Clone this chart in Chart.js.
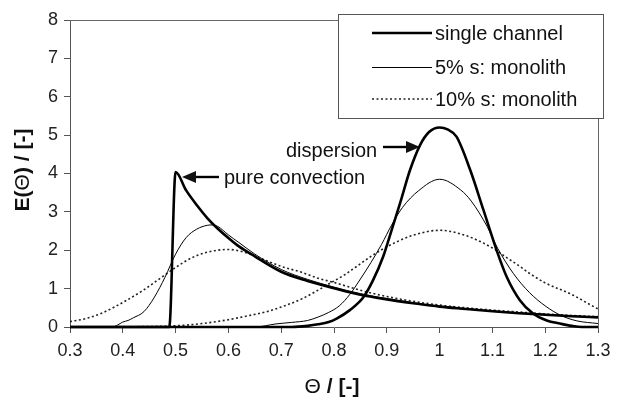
<!DOCTYPE html>
<html>
<head>
<meta charset="utf-8">
<script src="https://cdn.jsdelivr.net/npm/chart.js@4.4.1/dist/chart.umd.min.js"></script>
<style>
html,body{margin:0;padding:0;background:#fff;}
#wrap{width:623px;height:397px;position:relative;}
</style>
</head>
<body>
<div id="wrap"><canvas id="c" width="623" height="397"></canvas></div>
<script>
// ---- data ----
const xTicks = [0.3, 0.4, 0.5, 0.6, 0.7, 0.8, 0.9, 1.0, 1.1, 1.2, 1.3];
const yTicks = [0, 1, 2, 3, 4, 5, 6, 7, 8];
const legendLabels = ["single channel", "5% s: monolith", "10% s: monolith"];

// single channel: pure convection branch
const scConvX = [0.30, 0.488, 0.50, 0.52, 0.54, 0.56, 0.58, 0.60, 0.62, 0.65, 0.70, 0.75, 0.80, 0.85, 0.90, 0.95, 1.00, 1.05, 1.10, 1.15, 1.20, 1.25, 1.30];
const scConvY = [0, 0, 4.04, 3.56, 3.18, 2.84, 2.56, 2.32, 2.10, 1.84, 1.44, 1.20, 1.01, 0.84, 0.72, 0.62, 0.53, 0.47, 0.41, 0.36, 0.32, 0.28, 0.25];
// single channel: dispersion branch
const scDispX = [0.30, 0.72, 0.75, 0.77, 0.79, 0.805, 0.83, 0.856, 0.874, 0.893, 0.909, 0.925, 0.944, 0.963, 0.98, 1.00, 1.015, 1.032, 1.058, 1.083, 1.108, 1.127, 1.152, 1.177, 1.203, 1.228, 1.25, 1.27, 1.30];
const scDispY = [0, 0, 0.03, 0.07, 0.13, 0.22, 0.44, 0.78, 1.22, 1.83, 2.52, 3.22, 4.09, 4.74, 5.08, 5.20, 5.15, 4.96, 4.09, 3.05, 2.00, 1.31, 0.70, 0.35, 0.17, 0.09, 0.03, 0, 0];

// 5% s: monolith
const m5ConvX = [0.30, 0.38, 0.39, 0.40, 0.41, 0.42, 0.44, 0.46, 0.48, 0.50, 0.52, 0.54, 0.56, 0.57, 0.58, 0.60, 0.62, 0.65, 0.70, 0.75, 0.80, 0.85, 0.90, 0.95, 1.00, 1.05, 1.10, 1.15, 1.20, 1.25, 1.30];
const m5ConvY = [0, 0, 0.05, 0.13, 0.17, 0.24, 0.40, 0.78, 1.30, 1.90, 2.33, 2.55, 2.65, 2.66, 2.62, 2.40, 2.20, 1.90, 1.50, 1.24, 1.04, 0.87, 0.74, 0.63, 0.54, 0.48, 0.42, 0.37, 0.33, 0.29, 0.26];
const m5DispX = [0.30, 0.65, 0.69, 0.72, 0.75, 0.77, 0.79, 0.81, 0.83, 0.85, 0.87, 0.89, 0.91, 0.93, 0.96, 1.00, 1.04, 1.06, 1.09, 1.11, 1.14, 1.17, 1.20, 1.23, 1.26, 1.30];
const m5DispY = [0, 0, 0.08, 0.12, 0.17, 0.26, 0.38, 0.55, 0.85, 1.25, 1.68, 2.15, 2.68, 3.12, 3.55, 3.85, 3.57, 3.28, 2.62, 2.05, 1.39, 0.90, 0.55, 0.30, 0.16, 0.09];

// 10% s: monolith
const m10ConvX = [0.30, 0.33, 0.36, 0.40, 0.44, 0.47, 0.50, 0.53, 0.56, 0.60, 0.63, 0.67, 0.70, 0.74, 0.77, 0.80, 0.86, 0.92, 1.00, 1.05, 1.10, 1.15, 1.20, 1.25, 1.30];
const m10ConvY = [0.14, 0.22, 0.36, 0.64, 0.97, 1.26, 1.55, 1.80, 1.95, 2.02, 1.95, 1.74, 1.58, 1.42, 1.27, 1.16, 0.92, 0.74, 0.57, 0.50, 0.44, 0.39, 0.34, 0.30, 0.27];
const m10DispX = [0.30, 0.48, 0.52, 0.55, 0.60, 0.64, 0.67, 0.70, 0.74, 0.77, 0.79, 0.82, 0.84, 0.87, 0.90, 0.95, 1.00, 1.05, 1.10, 1.13, 1.15, 1.17, 1.20, 1.25, 1.28, 1.30];
const m10DispY = [0, 0.02, 0.05, 0.09, 0.19, 0.30, 0.39, 0.52, 0.74, 0.96, 1.12, 1.36, 1.55, 1.84, 2.09, 2.39, 2.52, 2.38, 2.06, 1.78, 1.60, 1.40, 1.15, 0.85, 0.62, 0.47];

function pts(xs, ys){ return xs.map((x,i)=>({x:x, y:ys[i]})); }

const STY = {
  thick:{borderColor:'#000', borderWidth:2.6, borderDash:[]},
  thin:{borderColor:'#000', borderWidth:1, borderDash:[]},
  dot:{borderColor:'#222', borderWidth:1.6, borderDash:[2,2.5]}
};
function ds(xs, ys, s){
  return Object.assign({data:pts(xs,ys), pointRadius:0, fill:false, cubicInterpolationMode:'monotone', clip:false}, s);
}

const FONT = '"Liberation Sans", Arial, Helvetica, sans-serif';

const extras = {
  id:'extras',
  afterDatasetsDraw(chart){
    const ctx = chart.ctx, a = chart.chartArea;
    ctx.save();
    // top and right frame
    ctx.strokeStyle = '#666'; ctx.lineWidth = 1;
    ctx.beginPath();
    ctx.moveTo(a.left, a.top + 0.5); ctx.lineTo(a.right + 0.5, a.top + 0.5); ctx.lineTo(a.right + 0.5, a.bottom);
    ctx.stroke();

    // legend box
    const lx = 338.5, ly = 14.5, lw = 265, lh = 104;
    ctx.fillStyle = '#fff'; ctx.fillRect(lx, ly, lw, lh);
    ctx.strokeStyle = '#555'; ctx.lineWidth = 1; ctx.strokeRect(lx, ly, lw, lh);
    const rows = [33, 67.5, 99];
    const styles = [STY.thick, STY.thin, STY.dot];
    ctx.font = '20px ' + FONT; ctx.fillStyle = '#111'; ctx.textBaseline = 'middle'; ctx.textAlign = 'left';
    rows.forEach((ry, i) => {
      const s = styles[i];
      ctx.strokeStyle = s.borderColor; ctx.lineWidth = s.borderWidth; ctx.setLineDash(s.borderDash);
      ctx.beginPath(); ctx.moveTo(372, ry); ctx.lineTo(432, ry); ctx.stroke();
      ctx.setLineDash([]);
      ctx.fillText(legendLabels[i], 435, ry + 1);
    });

    // annotations
    ctx.fillStyle = '#111'; ctx.strokeStyle = '#000';
    ctx.font = '20px ' + FONT; ctx.textBaseline = 'alphabetic';
    ctx.fillText('pure convection', 224, 183.5);
    ctx.fillText('dispersion', 286, 157);
    ctx.lineWidth = 2.4;
    // arrow left (pure convection)
    ctx.beginPath(); ctx.moveTo(219, 177); ctx.lineTo(193, 177); ctx.stroke();
    ctx.beginPath(); ctx.moveTo(182, 177); ctx.lineTo(196, 171); ctx.lineTo(196, 183); ctx.closePath(); ctx.fill();
    // arrow right (dispersion)
    ctx.beginPath(); ctx.moveTo(383, 147); ctx.lineTo(409, 147); ctx.stroke();
    ctx.beginPath(); ctx.moveTo(420, 147); ctx.lineTo(406, 141); ctx.lineTo(406, 153); ctx.closePath(); ctx.fill();

    // axis titles
    function mixed(parts, x, y){
      let total = 0;
      parts.forEach(p => { ctx.font = p[1] + ' 21px ' + FONT; total += ctx.measureText(p[0]).width; });
      let cx = x - total/2;
      parts.forEach(p => { ctx.font = p[1] + ' 21px ' + FONT; ctx.fillText(p[0], cx, y); cx += ctx.measureText(p[0]).width; });
    }
    ctx.fillStyle = '#111'; ctx.textBaseline = 'middle'; ctx.textAlign = 'left';
    mixed([['\u0398','normal'],[' / [-]','bold']], 332, 387);
    ctx.save();
    ctx.translate(23, 170); ctx.rotate(-Math.PI/2);
    mixed([['E(','bold'],['\u0398','normal'],[') / [-]','bold']], 0, 0);
    ctx.restore();
    ctx.restore();
  }
};

new Chart(document.getElementById('c'), {
  type:'line',
  data:{ datasets:[
    ds(scConvX, scConvY, STY.thick),
    ds(scDispX, scDispY, STY.thick),
    ds(m5ConvX, m5ConvY, STY.thin),
    ds(m5DispX, m5DispY, STY.thin),
    ds(m10ConvX, m10ConvY, STY.dot),
    ds(m10DispX, m10DispY, STY.dot)
  ]},
  options:{
    responsive:false, animation:false, devicePixelRatio:1,
    layout:{padding:{left:0, right:25, top:20, bottom:0}},
    plugins:{legend:{display:false}, tooltip:{enabled:false}},
    scales:{
      x:{
        type:'linear', min:0.3, max:1.3,
        afterBuildTicks(s){ s.ticks = xTicks.map(v=>({value:v})); },
        afterFit(s){ s.height = 70; },
        ticks:{ font:{size:18, family:FONT}, color:'#222', padding:7, maxRotation:0,
          callback:(v)=>String(Number(v.toFixed(1))) },
        grid:{ drawOnChartArea:false, drawTicks:true, tickLength:6, color:'#555' },
        border:{ display:true, color:'#555', width:1 }
      },
      y:{
        min:0, max:8,
        afterBuildTicks(s){ s.ticks = yTicks.map(v=>({value:v})); },
        afterFit(s){ s.width = 70; },
        ticks:{ font:{size:18, family:FONT}, color:'#222', padding:6 },
        grid:{ drawOnChartArea:false, drawTicks:true, tickLength:6, color:'#555' },
        border:{ display:true, color:'#555', width:1 }
      }
    }
  },
  plugins:[extras]
});
</script>
</body>
</html>
